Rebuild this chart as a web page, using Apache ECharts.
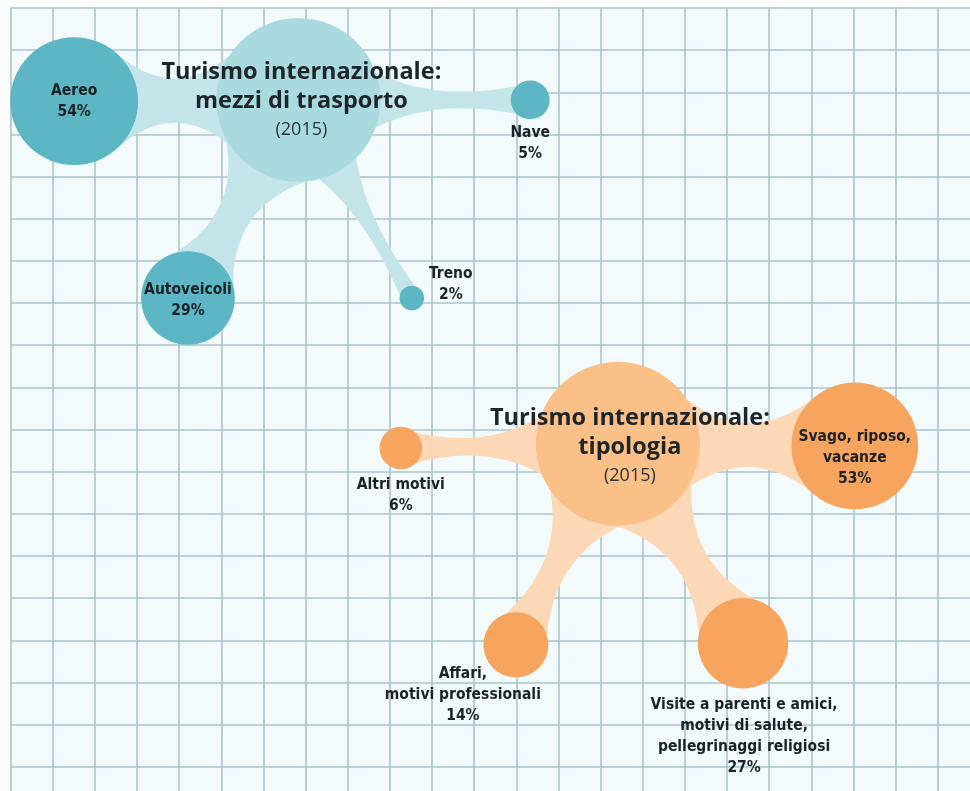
<!DOCTYPE html>
<html><head><meta charset="utf-8">
<script src="https://cdn.jsdelivr.net/npm/echarts@6/dist/echarts.min.js"></script>
<style>html,body{margin:0;padding:0;background:#fbfdfd}#c{width:970px;height:791px}</style>
</head><body><div id="c"></div>
<script>
// ---- data ----
const transportTitle = ['Turismo internazionale:', 'mezzi di trasporto', '(2015)'];
const transportCats = ['Aereo', 'Autoveicoli', 'Nave', 'Treno'];
const transportVals = [54, 29, 5, 2];
const purposeTitle = ['Turismo internazionale:', 'tipologia', '(2015)'];
const purposeCats = ['Svago, riposo,\nvacanze', 'Visite a parenti e amici,\nmotivi di salute,\npellegrinaggi religiosi', 'Affari,\nmotivi professionali', 'Altri motivi'];
const purposeVals = [53, 27, 14, 6];

// ---- layout (graph-paper cell units) ----
const transportHubPos = [6.83, 2.18];
const transportPos = [[1.51, 2.21], [4.21, 6.88], [12.33, 2.18], [9.52, 6.88]];
const transportLabelOffset = [[0, 0], [0, 2], [0, 44], [39, -14]];
const purposeHubPos = [14.41, 10.34];
const purposePos = [[20.03, 10.39], [17.38, 15.07], [11.99, 15.11], [9.26, 10.44]];
const purposeLabelOffset = [[0, 12], [1, 93], [-53, 50], [0, 47]];

const CELL = 42.15;
const GRID_LEFT = 10.5, GRID_TOP = 8, W = 970, H_ = 791;
const HUB_R = 82;
const radius = v => 8.7 * Math.sqrt(v);

const teal = { leaf: '#5cb6c3', hub: '#a9dadf', link: '#c3e5e9' };
const orange = { leaf: '#f7a45e', hub: '#fbbf88', link: '#fcd8b6' };

const labelFont = "'Liberation Sans Narrow', 'DejaVu Sans Condensed', 'Roboto', sans-serif";
const titleFont = "'Open Sans', 'DejaVu Sans', sans-serif";

function linkSeries(hubPos, pos, vals, color) {
  return {
    type: 'custom', coordinateSystem: 'cartesian2d', z: 1, silent: true, clip: false,
    data: pos.map((p, i) => [hubPos[0], hubPos[1], p[0], p[1], vals[i]]),
    renderItem(params, api) {
      const H = api.coord([api.value(0), api.value(1)]);
      const L = api.coord([api.value(2), api.value(3)]);
      const rl = radius(api.value(4));
      let dx = L[0] - H[0], dy = L[1] - H[1];
      const D = Math.hypot(dx, dy); dx /= D; dy /= D;
      const nx = -dy, ny = dx;
      const wH = Math.min(HUB_R * 0.55, rl * 0.9 + 10);
      const wL = rl * 0.72;
      const wM = rl * 0.3 + 3;
      const aH = Math.sqrt(HUB_R * HUB_R - wH * wH);
      const aL = Math.sqrt(rl * rl - wL * wL);
      const g = D - aH - aL;
      const wC = (8 * wM - wH - wL) / 6;
      const pt = (base, along, side) => [base[0] + dx * along + nx * side, base[1] + dy * along + ny * side];
      const P1 = pt(H, aH, wH), P2 = pt(H, aH, -wH);
      const Q1 = pt(L, -aL, wL), Q2 = pt(L, -aL, -wL);
      const A1 = pt(H, aH + g / 3, wC), B1 = pt(L, -aL - g / 3, wC);
      const A2 = pt(H, aH + g / 3, -wC), B2 = pt(L, -aL - g / 3, -wC);
      const f = p => p[0].toFixed(2) + ' ' + p[1].toFixed(2);
      const d = `M${f(P1)} C${f(A1)} ${f(B1)} ${f(Q1)} L${f(L)} L${f(Q2)} C${f(B2)} ${f(A2)} ${f(P2)} L${f(H)} Z`;
      return { type: 'path', shape: { pathData: d }, style: { fill: color } };
    }
  };
}

function hubSeries(pos, title, color, offset) {
  return {
    type: 'scatter', z: 2, silent: true,
    symbolSize: HUB_R * 2,
    itemStyle: { color: color, opacity: 1 },
    data: [{ value: pos, name: title[0] }],
    label: {
      show: true, position: 'inside', offset: offset,
      formatter: `{a|${title[0]}}\n{a|${title[1]}}\n{b|${title[2]}}`,
      rich: {
        a: { fontFamily: titleFont, fontWeight: 'bold', fontSize: 23.5, lineHeight: 29, color: '#1d2528', align: 'center' },
        b: { fontFamily: titleFont, fontSize: 18, lineHeight: 28, color: '#2b3336', align: 'center' }
      }
    }
  };
}

function leafSeries(cats, vals, pos, offsets, color) {
  return {
    type: 'scatter', z: 3, silent: true,
    symbolSize: v => 2 * radius(v[2]),
    itemStyle: { color: color, opacity: 1 },
    data: cats.map((c, i) => ({
      name: c, value: [pos[i][0], pos[i][1], vals[i]],
      label: { offset: offsets[i] }
    })),
    label: {
      show: true, position: 'inside',
      formatter: p => `${p.name}\n${p.value[2]}%`,
      fontFamily: labelFont, fontWeight: 'bold', fontSize: 15.5, lineHeight: 21,
      color: '#1b2124', align: 'center', verticalAlign: 'middle'
    }
  };
}

const axisCommon = {
  type: 'value', min: 0, interval: 1,
  axisLine: { show: false }, axisTick: { show: false }, axisLabel: { show: false },
  splitLine: { show: true, showMaxLine: false, lineStyle: { color: '#a9c5cc', width: 1.6 } }
};

const chart = echarts.init(document.getElementById('c'), null, { renderer: 'canvas' });
chart.setOption({
  backgroundColor: '#fbfdfd',
  animation: false,
  grid: {
    left: GRID_LEFT, top: GRID_TOP, right: 0, bottom: 0,
    outerBoundsMode: 'none',
    show: true, backgroundColor: '#f2fafb', borderWidth: 0
  },
  xAxis: Object.assign({}, axisCommon, { max: (W - GRID_LEFT) / CELL }),
  yAxis: Object.assign({}, axisCommon, { max: (H_ - GRID_TOP) / CELL, inverse: true }),
  series: [
    linkSeries(transportHubPos, transportPos, transportVals, teal.link),
    linkSeries(purposeHubPos, purposePos, purposeVals, orange.link),
    hubSeries(transportHubPos, transportTitle, teal.hub, [3, 1]),
    hubSeries(purposeHubPos, purposeTitle, orange.hub, [12, 3]),
    leafSeries(transportCats, transportVals, transportPos, transportLabelOffset, teal.leaf),
    leafSeries(purposeCats, purposeVals, purposePos, purposeLabelOffset, orange.leaf)
  ]
});
</script>
</body></html>
